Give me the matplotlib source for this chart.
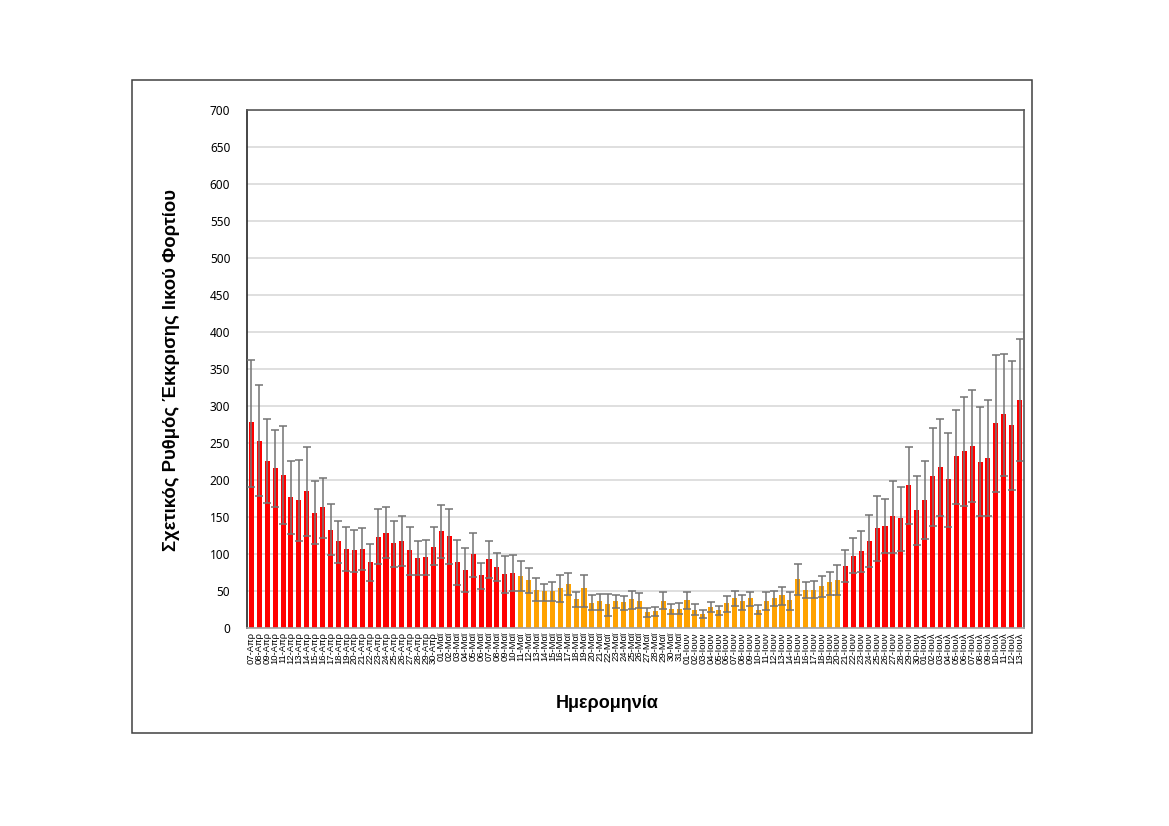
import matplotlib
matplotlib.use("Agg")
from matplotlib import pyplot as plt
from matplotlib.patches import Rectangle
import numpy as np

# month abbreviations and day ranges covered by the chart
months = ['Απρ', 'Μαϊ', 'Ιουν', 'Ιουλ']
month_days = [range(7, 31), range(1, 32), range(1, 31), range(1, 14)]
dates = ['%02d-%s' % (d, m) for m, days in zip(months, month_days) for d in days]

# relative shedding rate (bar height) and upper / lower error limits
rate = [278, 253, 226, 216, 207, 177, 173, 185, 156, 163,
        133, 117, 107, 105, 107, 89, 123, 129, 115, 118,
        105, 95, 96, 110, 131, 125, 89, 78, 100, 71,
        93, 82, 73, 75, 70, 65, 52, 50, 50, 54,
        60, 39, 54, 34, 36, 32, 36, 35, 39, 37,
        22, 23, 37, 26, 26, 38, 25, 19, 29, 24,
        34, 41, 36, 40, 25, 37, 41, 45, 38, 66,
        52, 52, 57, 62, 65, 84, 97, 104, 118, 135,
        138, 151, 148, 193, 159, 173, 205, 218, 201, 232,
        239, 246, 224, 230, 277, 289, 274, 308]
upper = [362, 328, 282, 267, 273, 226, 227, 245, 198, 203,
         168, 145, 136, 133, 135, 114, 161, 164, 145, 151,
         136, 118, 119, 136, 166, 161, 119, 108, 129, 88,
         118, 101, 97, 99, 90, 81, 67, 60, 62, 71,
         75, 49, 71, 44, 46, 46, 45, 43, 50, 47,
         27, 29, 48, 32, 34, 49, 33, 24, 35, 30,
         43, 50, 45, 49, 31, 48, 50, 56, 49, 87,
         62, 64, 70, 76, 85, 105, 121, 131, 153, 179,
         175, 198, 191, 245, 205, 226, 270, 283, 263, 295,
         312, 321, 298, 308, 369, 370, 361, 390]
lower = [191, 178, 169, 164, 141, 127, 118, 124, 113, 122,
         98, 88, 77, 76, 79, 63, 86, 94, 82, 84,
         72, 72, 72, 85, 95, 87, 58, 49, 69, 53,
         68, 63, 47, 50, 50, 47, 37, 37, 37, 35,
         44, 28, 28, 24, 25, 16, 27, 25, 26, 27,
         15, 16, 26, 19, 19, 26, 17, 13, 22, 17,
         22, 30, 24, 30, 19, 25, 30, 31, 25, 45,
         40, 40, 42, 45, 45, 62, 74, 76, 83, 90,
         101, 102, 104, 140, 112, 120, 138, 151, 137, 168,
         165, 170, 151, 151, 184, 206, 186, 226]

# low-shedding period drawn in orange
low_period = ('11-Μαϊ', '20-Ιουν')

RED = '#FF0000'
ORANGE = '#FFA200'

fig = plt.figure(figsize=(11.69, 8.26), dpi=100)
ax = fig.add_axes([247 / 1169, 1 - 628 / 826, 777 / 1169, 518 / 826])

x = np.arange(len(dates))
start, end = dates.index(low_period[0]), dates.index(low_period[1])
colours = [ORANGE if start <= i <= end else RED for i in x]
rate = np.array(rate)
ax.bar(x, rate, width=0.64, color=colours, zorder=2)
ax.errorbar(x, rate, yerr=[rate - np.array(lower), np.array(upper) - rate],
            fmt='none', ecolor='#737373', elinewidth=1.1, capsize=2.8,
            capthick=1.1, zorder=3)

ax.set_xlim(-0.55, len(dates) - 0.45)
ax.set_ylim(0, 700)
ax.set_yticks(np.arange(0, 701, 50))
ax.yaxis.grid(True, color='#D9D9D9', linewidth=1.2, zorder=0)
ax.set_axisbelow(True)
ax.tick_params(axis='both', length=0)
ax.tick_params(axis='y', pad=12)
ax.tick_params(axis='x', pad=3)
ax.set_xticks(x)
ax.set_xticklabels(dates, rotation=90, fontsize=6.8, family='Liberation Sans')
for lab in ax.get_yticklabels():
    lab.set_fontsize(8.5)
    lab.set_family('Noto Sans')

for side in ['top', 'right', 'left']:
    ax.spines[side].set_color('#595959')
ax.spines['left'].set_color('#262626')
ax.spines['bottom'].set_color('#A6A6A6')
for sp in ax.spines.values():
    sp.set_linewidth(1.2)

fig.text(172 / 1169, 1 - 370 / 826, 'Σχετικός Ρυθμός Έκκρισης Ιικού Φορτίου',
         rotation=90, ha='center', va='center', fontsize=13.3, fontweight='bold',
         family='Liberation Sans')
fig.text(607 / 1169, 1 - 704 / 826, 'Ημερομηνία', ha='center', va='center',
         fontsize=13, fontweight='bold', family='Liberation Sans')

# chart area frame
fig.patches.append(Rectangle((132 / 1169, 1 - 733 / 826), 900 / 1169, 653 / 826,
                             transform=fig.transFigure, fill=False,
                             edgecolor='#404040', linewidth=1.1))

fig.savefig('out.png', dpi=100)
